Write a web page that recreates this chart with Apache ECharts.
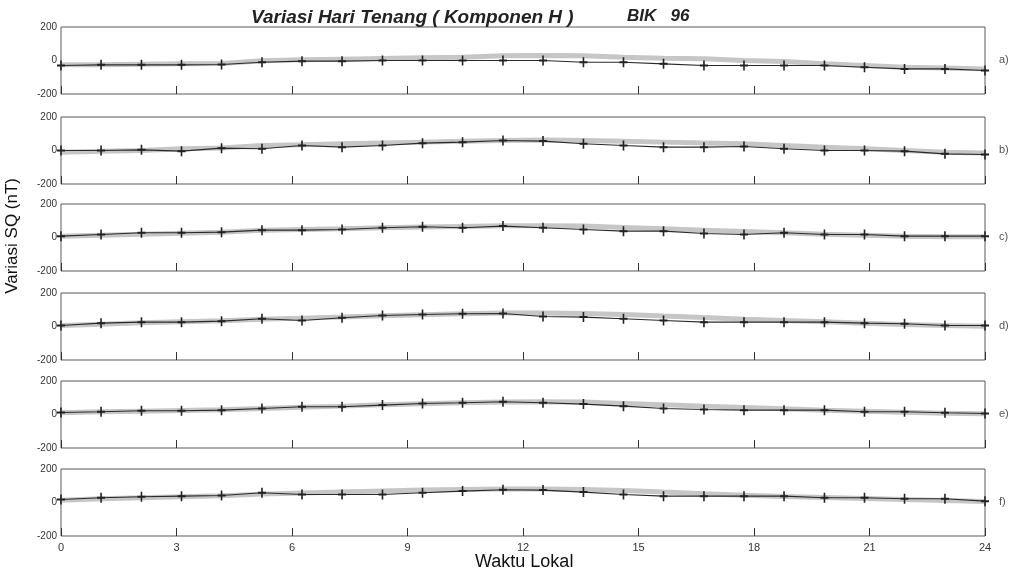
<!DOCTYPE html>
<html>
<head>
<meta charset="utf-8">
<title>Variasi Hari Tenang</title>
<script src="https://cdn.jsdelivr.net/npm/echarts@6/dist/echarts.min.js"></script>
<style>
  body { margin: 0; background: #fff; }
  .chart { width: 1018px; height: 576px; }
</style>
</head>
<body>
<div class="chart"></div>
<script>
// jam lokal (24 titik, 0 - 24)
var hours = [0, 1.04, 2.09, 3.13, 4.17, 5.22, 6.26, 7.3, 8.35, 9.39, 10.43, 11.48,
             12.52, 13.57, 14.61, 15.65, 16.7, 17.74, 18.78, 19.83, 20.87, 21.91, 22.96, 24];
var xTicks = [0, 3, 6, 9, 12, 15, 18, 21, 24];
var yTicks = [-200, 0, 200];
var panelNames = ['a)', 'b)', 'c)', 'd)', 'e)', 'f)'];

// data hari tenang (+)
var sqA = [-30,-26,-26,-26,-24,-10,-4,-4,0,0,0,0, 0,-10,-10,-20,-30,-30,-30,-30,-40,-50,-50,-60];
var sqB = [0,0,4,-4,14,10,30,20,30,44,50,60, 56,40,30,20,20,24,10,0,0,-4,-20,-24];
var sqC = [8,18,28,28,32,44,44,48,58,64,58,68, 58,48,38,38,24,18,28,18,18,8,8,8];
var sqD = [6,20,26,26,32,46,36,52,66,72,76,78, 60,56,46,36,26,26,26,26,20,16,6,6];
var sqE = [12,16,22,22,26,36,46,46,56,66,70,76, 70,62,50,36,30,26,26,26,16,16,10,6];
var sqF = [18,28,34,38,42,58,48,48,48,58,68,76, 74,62,48,38,38,38,38,28,28,22,22,8];

// kurva rata-rata (abu-abu)
var avgA = [-25,-25,-22,-20,-18,-2,4,8,12,16,20,28, 30,28,20,14,10,0,-6,-20,-30,-40,-45,-50];
var avgB = [-10,-5,0,10,15,30,35,40,45,50,55,60, 62,60,55,50,45,40,30,20,10,0,-10,-15];
var avgC = [8,14,20,26,32,44,48,52,58,62,66,70, 70,68,60,52,44,36,28,20,14,8,4,4];
var avgD = [6,14,22,28,34,44,50,56,64,70,76,80, 80,78,72,62,54,44,36,28,20,12,6,2];
var avgE = [10,16,20,24,28,36,44,50,58,64,70,74, 76,74,66,58,50,42,34,26,20,14,8,4];
var avgF = [14,22,28,34,40,50,56,62,68,74,78,80, 80,78,72,62,52,44,36,30,24,18,12,6];

var sqAll = [sqA, sqB, sqC, sqD, sqE, sqF];
var avgAll = [avgA, avgB, avgC, avgD, avgE, avgF];

var font = "'Liberation Sans', Arial, sans-serif";
var tops = [27, 117, 204, 293, 381, 469];
var plus = 'path://M4,0H6V4H10V6H6V10H4V6H0V4H4Z';

function pairs(xs, ys) {
  var out = [];
  for (var i = 0; i < xs.length; i++) out.push([xs[i], ys[i]]);
  return out;
}

var grids = [], xAxes = [], yAxes = [], series = [], graphics = [];
for (var k = 0; k < 6; k++) {
  grids.push({
    left: 61, right: 33, top: tops[k], height: 67,
    show: true, borderColor: '#5a5a5a', borderWidth: 1, backgroundColor: '#fff'
  });
  xAxes.push({
    gridIndex: k, type: 'value', min: 0, max: 24, interval: 3,
    axisLine: { show: false, onZero: false },
    axisTick: { show: true, inside: true, length: 8, lineStyle: { color: '#333' } },
    axisLabel: { show: k === 5, color: '#333', fontSize: 11, fontFamily: font, margin: 6 },
    splitLine: { show: false }
  });
  yAxes.push({
    gridIndex: k, type: 'value', min: -200, max: 200, interval: 200,
    axisLine: { show: false, onZero: false },
    axisTick: { show: false },
    axisLabel: { color: '#333', fontSize: 10, fontFamily: font, margin: 4 },
    splitLine: { show: false }
  });
  series.push({
    type: 'line', xAxisIndex: k, yAxisIndex: k,
    data: pairs(hours, avgAll[k]),
    symbol: 'none', silent: true,
    lineStyle: { color: '#c6c6c6', width: 5 }
  });
  series.push({
    type: 'line', xAxisIndex: k, yAxisIndex: k,
    data: pairs(hours, sqAll[k]),
    symbol: plus, symbolSize: [8, 10],
    itemStyle: { color: '#222' },
    lineStyle: { color: '#2a2a2a', width: 1.1 }
  });
  graphics.push({
    type: 'text', left: 999, top: tops[k] + 27,
    style: { text: panelNames[k], fill: '#555', font: '11px ' + font }
  });
}

// label sumbu
graphics.push({
  type: 'text', left: 4, top: 178, rotation: Math.PI / 2,
  style: { text: 'Variasi SQ (nT)', fill: '#111', font: '17px ' + font }
});
graphics.push({
  type: 'text', left: 475, top: 553,
  style: { text: 'Waktu Lokal', fill: '#111', font: '18px ' + font }
});
graphics.push({
  type: 'text', left: 627, top: 8,
  style: { text: 'BIK   96', fill: '#222', font: 'italic bold 17px ' + font }
});

var chart = echarts.init(document.querySelector('.chart'));
var option = {
  backgroundColor: '#fff',
  animation: false,
  title: {
    text: 'Variasi Hari Tenang ( Komponen H )',
    left: 246, top: 3,
    textStyle: { fontSize: 19, fontStyle: 'italic', fontWeight: 'bold', color: '#222', fontFamily: font }
  },
  grid: grids,
  xAxis: xAxes,
  yAxis: yAxes,
  series: series,
  graphic: graphics
};
chart.setOption(option);
</script>
</body>
</html>
